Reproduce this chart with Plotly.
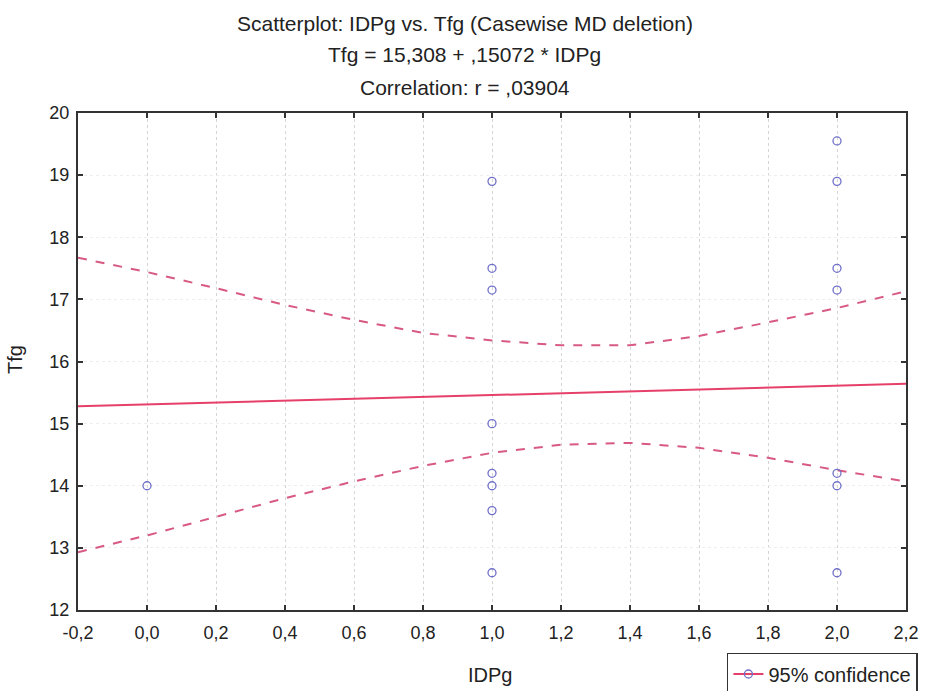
import plotly.graph_objects as go

# Scatter data
x_pts = [0.0, 1, 1, 1, 1, 1, 1, 1, 1, 2, 2, 2, 2, 2, 2, 2]
y_pts = [14.0, 18.9, 17.5, 17.15, 15.0, 14.2, 14.0, 13.6, 12.6,
         19.55, 18.9, 17.5, 17.15, 14.2, 14.0, 12.6]

# Regression line endpoints (Tfg = 15,308 + ,15072 * IDPg)
fit_x = [-0.2, 2.2]
fit_y = [15.278, 15.640]

# 95% confidence band
ci_x = [-0.2, 0.0, 0.2, 0.4, 0.6, 0.8, 1.0, 1.2, 1.4, 1.6, 1.8, 2.0, 2.2]
ci_upper = [17.67, 17.44, 17.18, 16.91, 16.67, 16.46, 16.34, 16.26, 16.26, 16.41, 16.63, 16.86, 17.13]
ci_lower = [12.93, 13.20, 13.50, 13.80, 14.07, 14.32, 14.53, 14.66, 14.69, 14.61, 14.45, 14.25, 14.07]

x_ticks = [-0.2, 0.0, 0.2, 0.4, 0.6, 0.8, 1.0, 1.2, 1.4, 1.6, 1.8, 2.0, 2.2]
x_ticklabels = ["-0,2", "0,0", "0,2", "0,4", "0,6", "0,8", "1,0", "1,2", "1,4", "1,6", "1,8", "2,0", "2,2"]
y_ticks = [12, 13, 14, 15, 16, 17, 18, 19, 20]

title_lines = ["Scatterplot: IDPg vs. Tfg (Casewise MD deletion)",
               "Tfg = 15,308 + ,15072 * IDPg",
               "Correlation: r = ,03904"]
x_title = "IDPg"
y_title = "Tfg"

PT = "#7070c8"
LN = "#e6406a"
DS = "#d85a82"
FONT = "Liberation Sans, Arial, sans-serif"
TXT = "#222222"

fig = go.Figure()
fig.add_trace(go.Scatter(x=ci_x, y=ci_upper, mode="lines", line=dict(color=DS, width=2, dash="dash"),
                         showlegend=False, hoverinfo="skip"))
fig.add_trace(go.Scatter(x=ci_x, y=ci_lower, mode="lines", line=dict(color=DS, width=2, dash="dash"),
                         showlegend=False, hoverinfo="skip"))
fig.add_trace(go.Scatter(x=fit_x, y=fit_y, mode="lines", line=dict(color=LN, width=2),
                         showlegend=False))
fig.add_trace(go.Scatter(x=x_pts, y=y_pts, mode="markers",
                         marker=dict(symbol="circle-open", size=8, color=PT, line=dict(width=1.3, color=PT)),
                         showlegend=False))
fig.add_trace(go.Scatter(x=[None], y=[None], mode="lines+markers", name="95% confidence",
                         line=dict(color=LN, width=2),
                         marker=dict(symbol="circle-open", size=8, color=PT, line=dict(width=1.3, color=PT))))

axis_common = dict(showline=True, linecolor="#333333", linewidth=2, mirror="ticks",
                   ticks="inside", ticklen=5, tickcolor="#333333", tickwidth=1.5,
                   showgrid=True, griddash="dot", gridwidth=1,
                   zeroline=False, automargin=False,
                   tickfont=dict(family=FONT, size=18, color=TXT))

fig.update_xaxes(range=[-0.2, 2.2], tickvals=x_ticks, ticktext=x_ticklabels, gridcolor="#d4d4d4",
                 ticklabelstandoff=5, **axis_common)
fig.update_yaxes(range=[12, 20], tickvals=y_ticks, gridcolor="#eeeeee",
                 ticklabelstandoff=3, **axis_common)

title_y = [1.181, 1.117, 1.052]
for txt, yy in zip(title_lines, title_y):
    fig.add_annotation(text=txt, xref="paper", yref="paper", x=0.467, y=yy,
                       xanchor="center", yanchor="middle", showarrow=False,
                       font=dict(family=FONT, size=21, color=TXT))

# axis titles
fig.add_annotation(text=x_title, xref="paper", yref="paper", x=0.498, y=-0.131,
                   xanchor="center", yanchor="middle", showarrow=False,
                   font=dict(family=FONT, size=20, color=TXT))
fig.add_annotation(text=y_title, xref="paper", yref="paper", x=-0.076, y=0.503,
                   xanchor="center", yanchor="middle", showarrow=False, textangle=-90,
                   font=dict(family=FONT, size=20, color=TXT))

fig.update_layout(
    width=926, height=691,
    margin=dict(l=78, r=20, t=113, b=81),
    paper_bgcolor="white", plot_bgcolor="white",
    legend=dict(xref="container", yref="container", orientation="h",
                x=0.785, xanchor="left", y=0.055, yanchor="top",
                bordercolor="#333333", borderwidth=1.5, bgcolor="white", itemwidth=30,
                font=dict(family=FONT, size=20, color=TXT)),
)

fig.write_html("out.html", config={"displayModeBar": False},
               post_script="document.body.style.margin='0';")
